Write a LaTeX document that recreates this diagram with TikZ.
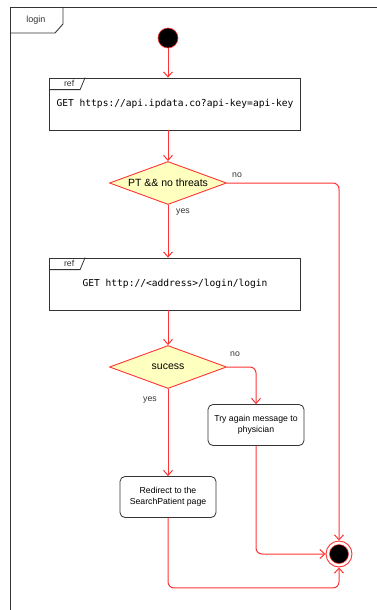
\documentclass[tikz,border=0pt]{standalone}
\usepackage{fontspec}
\setmainfont{Liberation Sans}
\setmonofont{DejaVu Sans Mono}
\usetikzlibrary{arrows.meta,positioning,shapes.geometric}
\definecolor{flowred}{HTML}{FF3333}
\definecolor{decfill}{HTML}{FFFFC0}
\definecolor{edge}{HTML}{333333}

\begin{document}
\begin{tikzpicture}[x=1pt, y=1pt, flow/.style={draw=flowred, line width=1pt, -{Straight Barb[length=5pt,width=9pt]}, rounded corners=6pt}, refbox/.style={draw=edge, line width=0.8pt, minimum width=251pt, minimum height=52pt, inner sep=0pt, font=\ttfamily\fontsize{9.6}{11}\selectfont}, decision/.style={diamond, aspect=2.7, draw=flowred, fill=decfill, line width=0.9pt, inner sep=0pt, minimum width=117pt, minimum height=43pt, font=\fontsize{10.5}{12}\selectfont}, actbox/.style={draw=edge, line width=0.8pt, rounded corners=5pt, align=center, minimum width=96pt, minimum height=41pt, inner sep=1pt, font=\fontsize{8.7}{11}\selectfont}, lbl/.style={inner sep=0pt, text=edge, font=\fontsize{8.7}{10}\selectfont}]
\useasboundingbox (0,0) rectangle (377,-610);
% frame
\draw[edge, line width=0.9pt] (377,-7) -- (10,-7) -- (10,-610);
\draw[edge, line width=0.9pt] (10,-33) -- (55,-33) -- (63,-24) -- (63,-7);
\node[lbl, font=\fontsize{9}{10}\selectfont] (frame) at (36,-20) {login};
% nodes
\node[circle, fill=black, draw=flowred, line width=0.6pt, minimum size=20pt, inner sep=0pt] (start) at (168,-38) {};
\node[refbox] (ref1) at (175,-104) {GET https://api.ipdata.co?api-key=api-key};
\node[decision] (dec1) at (168,-183) {PT \&\& no threats};
\node[refbox] (ref2) at (175,-284) {GET http://<address>/login/login};
\node[decision] (dec2) at (168,-367) {sucess};
\node[actbox] (retry) at (256,-425) {Try again message to\\physician};
\node[actbox] (redirect) at (168,-497) {Redirect to the\\SearchPatient page};
\node[circle, draw=flowred, fill=white, line width=0.9pt, minimum size=26pt, inner sep=0pt] (final) at (339,-554) {};
\node[circle, fill=black, draw=flowred, line width=0.5pt, minimum size=19pt, inner sep=0pt] (finaldot) at (final.center) {};
% ref tabs
\draw[edge, line width=0.8pt] (ref1.north west) ++(0,-12) -- ++(31,0) -- ++(5,12);
\node[lbl] (reftag1) at ([shift={(20,-6)}]ref1.north west) {ref};
\draw[edge, line width=0.8pt] (ref2.north west) ++(0,-12) -- ++(31,0) -- ++(5,12);
\node[lbl] (reftag2) at ([shift={(20,-6)}]ref2.north west) {ref};
% guards
\node[lbl] (no1) at (237,-175) {no};
\node[lbl] (yes1) at (183,-212) {yes};
\node[lbl] (no2) at (235,-354) {no};
\node[lbl] (yes2) at (150,-400) {yes};
% flows
\draw[flow] (start) -- (start |- ref1.north);
\draw[flow] (dec1 |- ref1.south) -- (dec1.north);
\draw[flow] (dec1.south) -- (dec1 |- ref2.north);
\draw[flow] (dec1 |- ref2.south) -- (dec2.north);
\draw[flow] (dec1.east) -| (final.north);
\draw[flow] (dec2.east) -| (retry.north);
\draw[flow] (dec2.south) -- (redirect.north);
\draw[flow] (retry.south) |- (final.west);
\draw[flow] (redirect.south) -- ++(0,-70) -| (final.south);
\end{tikzpicture}
\end{document}
